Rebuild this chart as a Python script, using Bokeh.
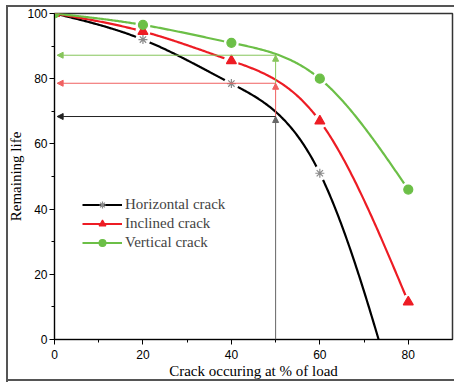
import numpy as np
from bokeh.plotting import figure
from bokeh.models import (Arrow, NormalHead, Legend, LegendItem,
                          Range1d, FixedTicker)
from bokeh.embed import file_html
from bokeh.resources import INLINE

load = [0, 20, 40, 60, 80]
horizontal = [100, 92, 78.5, 51, -32]
inclined = [100, 94.5, 85.5, 67, 11.5]
vertical = [100, 96.5, 91, 80, 46]
ref_load = 50
ref_life = [68.4, 78.6, 87.2]  # horizontal, inclined, vertical crack at 50 % load
x_ticks = [0, 20, 40, 60, 80]
y_ticks = [0, 20, 40, 60, 80, 100]
x_minor = [10, 30, 50, 70]
y_minor = [10, 30, 50, 70, 90]
x_title = "Crack occuring at % of load"
y_title = "Remaining life"


def spline(x, y, n=300):
    x = np.asarray(x, float)
    y = np.asarray(y, float)
    h = np.diff(x)
    N = len(x)
    A = np.zeros((N, N))
    b = np.zeros(N)
    A[0, 0] = 1
    A[-1, -1] = 1
    for i in range(1, N - 1):
        A[i, i - 1] = h[i - 1]
        A[i, i] = 2 * (h[i - 1] + h[i])
        A[i, i + 1] = h[i]
        b[i] = 6 * ((y[i + 1] - y[i]) / h[i] - (y[i] - y[i - 1]) / h[i - 1])
    M = np.linalg.solve(A, b)
    xs = np.linspace(x[0], x[-1], n)
    idx = np.clip(np.searchsorted(x, xs) - 1, 0, N - 2)
    x0 = x[idx]
    x1 = x[idx + 1]
    hh = x1 - x0
    t0 = x1 - xs
    t1 = xs - x0
    ys = (M[idx] * t0 ** 3 / (6 * hh) + M[idx + 1] * t1 ** 3 / (6 * hh)
          + (y[idx] / hh - M[idx] * hh / 6) * t0
          + (y[idx + 1] / hh - M[idx + 1] * hh / 6) * t1)
    return xs, ys


p = figure(width=454, height=382, output_backend="svg", toolbar_location=None,
           x_range=Range1d(0, 90), y_range=Range1d(0, 100),
           min_border_left=54, min_border_right=2, min_border_top=13,
           min_border_bottom=43)
p.grid.visible = False
p.outline_line_color = "#333333"
p.outline_line_width = 1.5
p.border_fill_color = None

# outer page frame (left, top, bottom edges visible; right edge cut off)
G = "linear-gradient(#555555,#555555)"
p.styles = {
    "background": (f"{G} 6px 5px / 2px 377px no-repeat, "
                   f"{G} 6px 5px / 448px 2px no-repeat, "
                   f"{G} 6px 379px / 448px 2px no-repeat, white")
}

BLACK = "#000000"
RED = "#ed1c24"
GREEN = "#6cbf47"

series = [
    ("Horizontal crack", horizontal, BLACK, "asterisk", "#8a8a8a", 9),
    ("Inclined crack", inclined, RED, "triangle", RED, 10),
    ("Vertical crack", vertical, GREEN, "circle", GREEN, 9),
]

line_rs = []
for name, vals, col, mk, mcol, sz in series:
    xs, ys = spline(load, vals)
    lr = p.line(xs, ys, line_color=col, line_width=2.2)
    line_rs.append(lr)

# gaps around the markers
for name, vals, col, mk, mcol, sz in series:
    p.scatter(load[1:], vals[1:], size=15, marker="circle", fill_color="white",
              line_color=None)

legend_items = []
for (name, vals, col, mk, mcol, sz), lr in zip(series, line_rs):
    mr = p.scatter(load, vals, size=sz, marker=mk, fill_color=mcol,
                   line_color=mcol, line_width=1.2)
    legend_items.append(LegendItem(label=name, renderers=[lr, mr]))

# reference arrows at 50 % load
vcols = ["#666666", "#f06060", "#86c55a"]
hcols = ["#222222", "#f06060", "#86c55a"]
starts = [0] + ref_life[:-1]
for y0, y1, vc in zip(starts, ref_life, vcols):
    p.add_layout(Arrow(x_start=ref_load, y_start=y0, x_end=ref_load, y_end=y1,
                       line_color=vc, line_width=1,
                       end=NormalHead(size=6, fill_color=vc, line_color=vc)))
for yv, hc in zip(ref_life, hcols):
    p.add_layout(Arrow(x_start=ref_load, y_start=yv, x_end=0.6, y_end=yv,
                       line_color=hc, line_width=1,
                       end=NormalHead(size=6, fill_color=hc, line_color=hc)))

legend = Legend(items=legend_items, location=(28, 88), border_line_color=None,
                background_fill_alpha=0, label_text_font="Liberation Serif",
                label_text_font_size="15px", glyph_width=40, glyph_height=17,
                label_height=17, spacing=2, padding=2, margin=0,
                label_standoff=3)
p.add_layout(legend)

for ax in (p.xaxis[0], p.yaxis[0]):
    ax.major_label_text_font = "Liberation Sans"
    ax.major_label_text_font_size = "12px"
    ax.major_label_text_color = "black"
    ax.axis_label_text_font = "Liberation Serif"
    ax.axis_label_text_font_size = "15px"
    ax.axis_label_text_font_style = "normal"
    ax.axis_label_text_color = "black"
    ax.axis_line_color = "black"
    ax.major_tick_line_color = "black"
    ax.minor_tick_line_color = "black"
    ax.major_tick_out = 5
    ax.major_tick_in = 0
    ax.minor_tick_out = 3
    ax.minor_tick_in = 0

p.xaxis.major_label_standoff = 5
p.yaxis.major_label_standoff = 2
p.xaxis.ticker = FixedTicker(ticks=x_ticks, minor_ticks=x_minor)
p.yaxis.ticker = FixedTicker(ticks=y_ticks, minor_ticks=y_minor)
p.xaxis.axis_label = x_title
p.yaxis.axis_label = y_title
p.xaxis.axis_label_standoff = 1
p.yaxis.axis_label_standoff = 0

open("out.html", "w").write(file_html(p, INLINE))
